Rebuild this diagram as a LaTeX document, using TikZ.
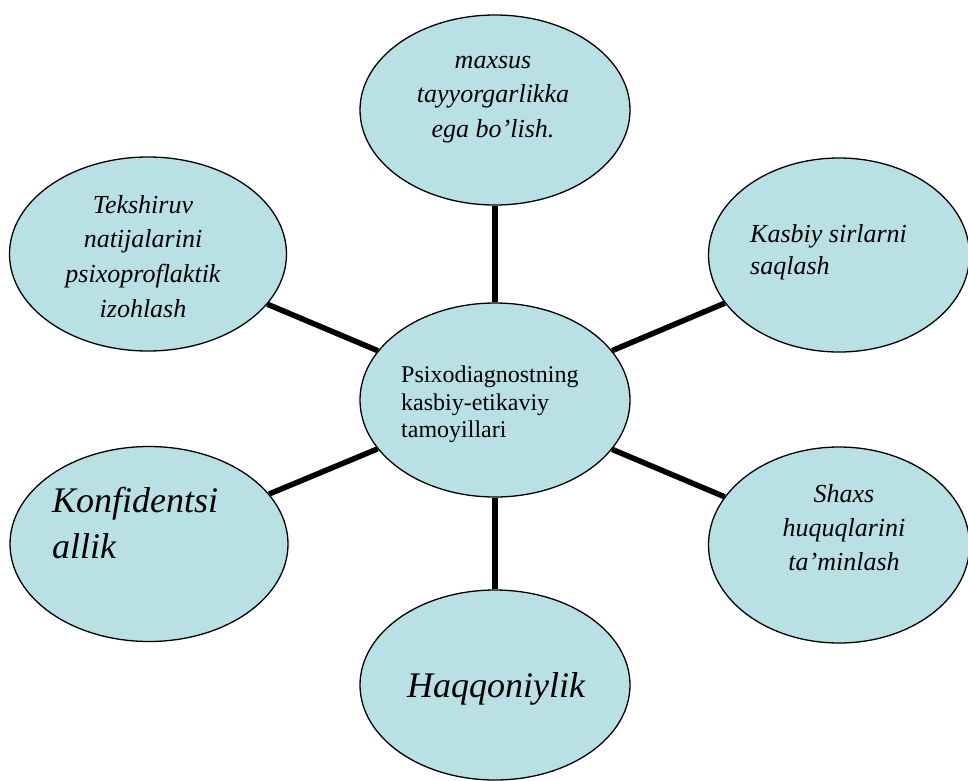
\documentclass[tikz,border=0pt]{standalone}
\usepackage{fontspec}
\setmainfont{Liberation Serif}
\usetikzlibrary{shapes.geometric}
\pgfdeclarelayer{bg}
\pgfsetlayers{bg,main}
\definecolor{bubble}{RGB}{185,224,228}
\tikzset{
  bubble/.style={ellipse, draw=black, line width=1.3pt, fill=bubble, inner sep=0pt},
  spoke/.style={line width=5.5pt, black},
  itxt/.style={inner sep=0pt, font=\fontsize{26}{30}\selectfont\itshape},
  bigtxt/.style={inner sep=0pt, font=\fontsize{36}{40}\selectfont\itshape},
  rtxt/.style={inner sep=0pt, font=\fontsize{24}{28}\selectfont},
}
\begin{document}
\begin{tikzpicture}[x=1pt,y=-1pt]
\useasboundingbox (0,0) rectangle (968,780);
\clip (0,0) rectangle (968,780);

% ellipses
\node[bubble, minimum width=270pt, minimum height=190pt] (top) at (495,110) {};
\node[bubble, minimum width=270pt, minimum height=194pt] (ctr) at (495,400) {};
\node[bubble, minimum width=277pt, minimum height=194pt] (lt) at (148,254) {};
\node[bubble, minimum width=278pt, minimum height=195pt] (lb) at (149,544) {};
\node[bubble, minimum width=261pt, minimum height=194pt] (rt) at (839,255) {};
\node[bubble, minimum width=261pt, minimum height=196pt] (rb) at (839,545) {};
\node[bubble, minimum width=270pt, minimum height=190pt] (bot) at (495,685) {};

% background and connectors
\begin{pgfonlayer}{bg}
\fill[white] (0,0) rectangle (968,780);
\draw[spoke] (ctr) -- (top);
\draw[spoke] (ctr) -- (bot);
\draw[spoke] (ctr) -- (lt);
\draw[spoke] (ctr) -- (lb);
\draw[spoke] (ctr) -- (rt);
\draw[spoke] (ctr) -- (rb);
\end{pgfonlayer}

% top text
\node[itxt, anchor=base] (top1) at (493,68) {maxsus};
\node[itxt, anchor=base] (top2) at (493,102) {tayyorgarlikka};
\node[itxt, anchor=base] (top3) at (493,137) {ega bo’lish.};

% left top text
\node[itxt, anchor=base] (lt1) at (143,213) {Tekshiruv};
\node[itxt, anchor=base] (lt2) at (143,247) {natijalarini};
\node[itxt, anchor=base] (lt3) at (143,282) {psixoproflaktik};
\node[itxt, anchor=base] (lt4) at (143,317) {izohlash};

% right top text
\node[itxt, anchor=base west] (rt1) at (750,242) {Kasbiy sirlarni};
\node[itxt, anchor=base west] (rt2) at (750,274) {saqlash};

% center text
\node[rtxt, anchor=base west] (c1) at (401,382) {Psixodiagnostning};
\node[rtxt, anchor=base west] (c2) at (401,410) {kasbiy-etikaviy};
\node[rtxt, anchor=base west] (c3) at (401,437) {tamoyillari};

% left bottom text
\node[bigtxt, anchor=base west] (lb1) at (52,512) {Konfidentsi};
\node[bigtxt, anchor=base west] (lb2) at (52,558) {allik};

% right bottom text
\node[itxt, anchor=base] (rb1) at (844,502) {Shaxs};
\node[itxt, anchor=base] (rb2) at (844,536) {huquqlarini};
\node[itxt, anchor=base] (rb3) at (844,570) {ta’minlash};

% bottom text
\node[bigtxt, anchor=base] (bot1) at (496,697) {Haqqoniylik};
\end{tikzpicture}
\end{document}
